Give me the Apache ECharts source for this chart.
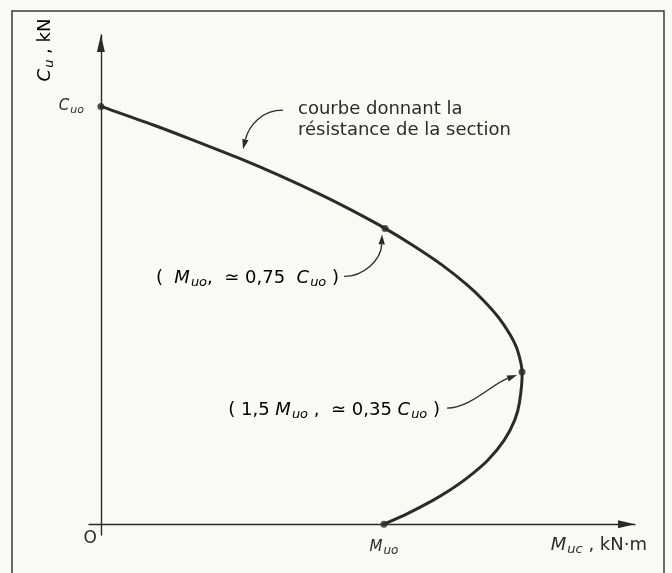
<!DOCTYPE html>
<html><head><meta charset="utf-8">
<script src="https://cdn.jsdelivr.net/npm/echarts@6/dist/echarts.min.js"></script>
<style>html,body{margin:0;padding:0;background:#fafaf5}#c{width:672px;height:573px}</style>
</head><body><div id="c"></div>
<script>
// Interaction curve: x in units of M_uo, y in units of C_uo
const curveX = [0, 0.188, 0.346, 0.488, 0.636, 0.782, 0.887, 1.004, 1.103, 1.206, 1.295, 1.351, 1.407, 1.447, 1.472, 1.488,
                1.479, 1.462, 1.425, 1.367, 1.293, 1.232, 1.173, 1.085, 1.0];
const curveY = [1.0, 0.955, 0.914, 0.876, 0.833, 0.787, 0.751, 0.708, 0.667, 0.620, 0.572, 0.536, 0.493, 0.452, 0.416, 0.364,
                0.292, 0.249, 0.201, 0.153, 0.110, 0.081, 0.057, 0.026, 0];
// Marked points on the curve
const keyX = [0, 1.004, 1.488, 1.0];
const keyY = [1.0, 0.708, 0.364, 0];
// Axis labels
const xTickValues = [1];
const xTickLabels = ['{i|M}{s|uo}'];
const yTickValues = [0, 1];
const yTickLabels = ['{o|O}', '{i|C}{cs|uo}'];
const xAxisTitle = '{ni|M}{ns|uc}{n| , kN·m}';
const yAxisTitle = '{ni|C}{ns|u}{n| , kN}';
// Annotations
const annotTexts = [
  'courbe donnant la\nrésistance de la section',
  '{n|(  }{ni|M}{ns|uo}{n|,  ≃ 0,75  }{ni|C}{ns|uo}{n| )}',
  '{n|( 1,5 }{ni|M}{ns|uo}{n| ,  ≃ 0,35 }{ni|C}{ns|uo}{n| )}'
];

const INK = '#2b2b2b';
const FONT = 'DejaVu Sans';
const rich = {
  n:  {fontFamily: FONT, fontSize: 18, color: INK},
  ni: {fontFamily: FONT, fontSize: 18, fontStyle: 'italic', color: INK},
  ns: {fontFamily: FONT, fontSize: 13, fontStyle: 'italic', color: INK, padding: [9, 0, 0, 1]},
  o:  {fontFamily: FONT, fontSize: 17, color: INK, padding: [29, 0, 0, 0]},
  i:  {fontFamily: FONT, fontSize: 15, fontStyle: 'italic', color: INK},
  s:  {fontFamily: FONT, fontSize: 12, fontStyle: 'italic', color: INK, padding: [8, 0, 0, 1]},
  cs: {fontFamily: FONT, fontSize: 11, fontStyle: 'italic', color: INK, padding: [8, 13, 0, 1]}
};

// smooth curve through the data points (Catmull-Rom), positioned by the axes
function renderCurve(params, api) {
  if (params.dataIndex !== 0) return null;
  const pts = curveX.map((x, k) => api.coord([x, curveY[k]]));
  let d = 'M' + pts[0][0] + ',' + pts[0][1];
  for (let i = 0; i < pts.length - 1; i++) {
    const p0 = pts[Math.max(i - 1, 0)], p1 = pts[i], p2 = pts[i + 1], p3 = pts[Math.min(i + 2, pts.length - 1)];
    const c1 = [p1[0] + (p2[0] - p0[0]) / 6, p1[1] + (p2[1] - p0[1]) / 6];
    const c2 = [p2[0] - (p3[0] - p1[0]) / 6, p2[1] - (p3[1] - p1[1]) / 6];
    d += ' C' + c1[0] + ',' + c1[1] + ' ' + c2[0] + ',' + c2[1] + ' ' + p2[0] + ',' + p2[1];
  }
  return {type: 'path', shape: {pathData: d},
    style: {stroke: INK, lineWidth: 3, fill: 'none', lineJoin: 'round', lineCap: 'round'}};
}

const chart = echarts.init(document.getElementById('c'));
const option = {
  backgroundColor: '#fafaf5',
  animation: false,
  grid: {left: 89, right: 37, top: 35, bottom: 38, containLabel: false},
  xAxis: {
    type: 'value', min: -0.042, max: 1.887,
    splitLine: {show: false}, axisTick: {show: false},
    axisLine: {onZero: true, lineStyle: {color: INK, width: 1.4},
      symbol: ['none', 'triangle'], symbolSize: [8, 17], symbolOffset: [0, -8.5]},
    axisLabel: {customValues: xTickValues, margin: 2,
      formatter: v => xTickLabels[xTickValues.indexOf(v)], rich: rich},
    name: xAxisTitle, nameLocation: 'end', nameGap: 12, nameMoveOverlap: false,
    nameTextStyle: {align: 'right', verticalAlign: 'top', padding: [10, 0, 0, 0], rich: rich}
  },
  yAxis: {
    type: 'value', min: -0.026, max: 1.171,
    splitLine: {show: false}, axisTick: {show: false},
    axisLine: {onZero: true, lineStyle: {color: INK, width: 1.4},
      symbol: ['none', 'triangle'], symbolSize: [8, 17], symbolOffset: [0, -8.5]},
    axisLabel: {customValues: yTickValues, margin: -8,
      formatter: v => yTickLabels[yTickValues.indexOf(v)], rich: rich}
  },
  series: [
    {type: 'custom', coordinateSystem: 'cartesian2d', renderItem: renderCurve,
     data: curveX.map((x, k) => [x, curveY[k]]), clip: false, z: 3},
    {type: 'scatter', data: keyX.map((x, k) => [x, keyY[k]]), symbolSize: 7,
     itemStyle: {color: INK}, z: 4}
  ]
};
chart.setOption(option);

function px(x, y) { return chart.convertToPixel({gridIndex: 0}, [x, y]); }
function arrow(S, C1, C2, E) {
  const dx = E[0] - C2[0], dy = E[1] - C2[1];
  const L = Math.hypot(dx, dy) || 1, ux = dx / L, uy = dy / L;
  const len = 10, hw = 3.2;
  const bx = E[0] - ux * len, by = E[1] - uy * len;
  return [
    {type: 'bezierCurve', shape: {x1: S[0], y1: S[1], cpx1: C1[0], cpy1: C1[1], cpx2: C2[0], cpy2: C2[1], x2: bx, y2: by},
     style: {stroke: INK, lineWidth: 1.3, fill: null}, z: 10},
    {type: 'polygon', shape: {points: [[E[0], E[1]], [bx - uy * hw, by + ux * hw], [bx + uy * hw, by - ux * hw]]},
     style: {fill: INK}, z: 10}
  ];
}
const add = (p, d) => [p[0] + d[0], p[1] + d[1]];

const T1 = px(curveX[3], curveY[3]);
const T2 = px(keyX[1], keyY[1]);
const T3 = px(keyX[2], keyY[2]);
const g = [];
// frame
g.push({type: 'rect', shape: {x: 12, y: 11, width: 652, height: 600}, style: {stroke: '#3a3a3a', lineWidth: 1.5, fill: null}, z: 1});
// y-axis title
g.push({type: 'text', x: 45, y: 50, rotation: Math.PI / 2,
  style: {text: yAxisTitle, rich: rich, align: 'center', verticalAlign: 'middle'}, z: 10});
// annotation 1
g.push(...arrow(add(T1, [44, -48]), add(T1, [23, -48]), add(T1, [10, -33]), add(T1, [4, -9])));
g.push({type: 'text', x: T1[0] + 59, y: T1[1] - 38,
  style: {text: annotTexts[0], fontFamily: FONT, fontSize: 18, lineHeight: 21, fill: INK, align: 'left', verticalAlign: 'middle'}, z: 10});
// annotation 2
g.push(...arrow(add(T2, [-41, 48]), add(T2, [-22, 48]), add(T2, [-4, 32]), add(T2, [-3, 6])));
g.push({type: 'text', x: T2[0] - 46, y: T2[1] + 50,
  style: {text: annotTexts[1], rich: rich, align: 'right', verticalAlign: 'middle'}, z: 10});
// annotation 3
g.push(...arrow(add(T3, [-75, 36]), add(T3, [-52, 36]), add(T3, [-30, 12]), add(T3, [-5, 3])));
g.push({type: 'text', x: T3[0] - 82, y: T3[1] + 38,
  style: {text: annotTexts[2], rich: rich, align: 'right', verticalAlign: 'middle'}, z: 10});
chart.setOption({graphic: g});
</script>
</body></html>
